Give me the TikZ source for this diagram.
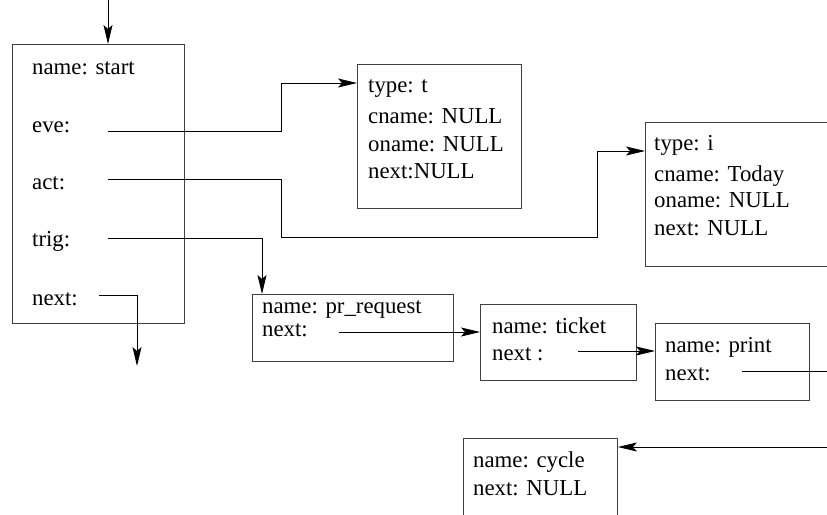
\documentclass[tikz,border=0pt]{standalone}
\usepackage{fontspec}
\setmainfont{Liberation Serif}
\usetikzlibrary{arrows.meta}
\begin{document}
\begin{tikzpicture}[x=1pt,y=-1pt,
  box/.style={draw=black!75,line width=0.9pt,rectangle,inner sep=0pt,anchor=north west},
  txt/.style={inner sep=0pt,anchor=base west,font=\fontsize{22.8}{27}\selectfont},
  conn/.style={draw=black,line width=0.8pt},
  arr/.style={conn,-{Stealth[length=19pt,width=9pt,inset=4pt]}}]
\clip (0,0) rectangle (827,514);
\fill[white] (0,0) rectangle (827,514);
% boxes
\node[box,minimum width=172pt,minimum height=279pt] (startbox) at (12,44) {};
\node[box,minimum width=164pt,minimum height=144pt] (tbox) at (357,64) {};
\node[box,minimum width=210pt,minimum height=144pt] (ibox) at (645,122) {};
\node[box,minimum width=201pt,minimum height=67pt] (prbox) at (252,294) {};
\node[box,minimum width=156pt,minimum height=76pt] (tkbox) at (480,304) {};
\node[box,minimum width=154pt,minimum height=77pt] (pnbox) at (655,323) {};
\node[box,minimum width=154pt,minimum height=100pt] (cybox) at (463,438) {};
% texts
\node[txt] (s1) at (32,74) {name: start};
\node[txt] (s2) at (32,132) {eve:};
\node[txt] (s3) at (32,189) {act:};
\node[txt] (s4) at (32,246) {trig:};
\node[txt] (s5) at (32,305) {next:};
\node[txt] (t1) at (368,92) {type: t};
\node[txt] (t2) at (368,123) {cname: NULL};
\node[txt] (t3) at (368,151) {oname: NULL};
\node[txt] (t4) at (368,178) {next:NULL};
\node[txt] (i1) at (654,150) {type: i};
\node[txt] (i2) at (654,181) {cname: Today};
\node[txt] (i3) at (654,207) {oname: NULL};
\node[txt] (i4) at (654,235) {next: NULL};
\node[txt] (p1) at (262,313) {name: pr\_request};
\node[txt] (p2) at (262,336) {next:};
\node[txt] (k1) at (492,333) {name: ticket};
\node[txt] (k2) at (492,360) {next :};
\node[txt] (n1) at (665,352) {name: print};
\node[txt] (n2) at (665,380) {next:};
\node[txt] (c1) at (473,467) {name: cycle};
\node[txt] (c2) at (473,495) {next: NULL};
% connector end points
\coordinate (topin) at (108,0);
\coordinate (eveS) at (108,131);
\coordinate (actS) at (108,179);
\coordinate (trigS) at (108,238);
\coordinate (nxS) at (99,295);
\coordinate (nxE) at (137,366);
\coordinate (tin) at (357,83);
\coordinate (iin) at (645,151);
\coordinate (prtop) at (262,294);
\coordinate (prS) at (339,332);
\coordinate (tkS) at (578,351);
\coordinate (pnS) at (742,371);
\coordinate (pnE) at (827,371);
\coordinate (cyS) at (827,447);
% connectors
\draw[arr] (topin) -- (topin |- startbox.north);
\draw[arr] (eveS) -- ++(173,0) |- (tin);
\draw[arr] (actS) -- ++(173,0) -- ++(0,58) -- ++(316,0) |- (iin);
\draw[arr] (trigS) -| (prtop);
\draw[arr] (nxS) -| (nxE);
\draw[arr] (prS) -- (prS -| tkbox.west);
\draw[arr] (tkS) -- (tkS -| pnbox.west);
\draw[conn] (pnS) -- (pnE);
\draw[arr] (cyS) -- (cyS -| cybox.east);
\end{tikzpicture}
\end{document}
